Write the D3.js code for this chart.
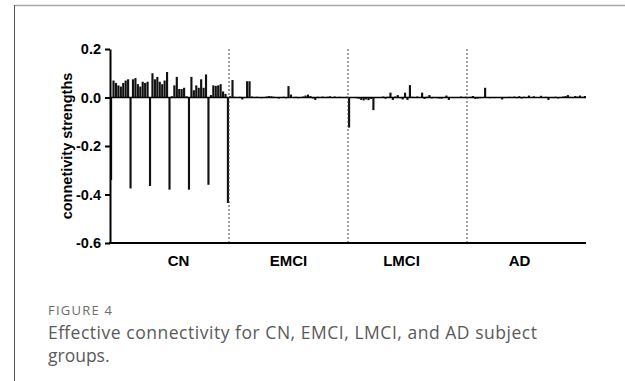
<!DOCTYPE html>
<html>
<head>
<meta charset="utf-8">
<script src="https://cdn.jsdelivr.net/npm/d3@7"></script>
<style>
  body { margin: 0; background: #fff; }
  svg { display: block; }
</style>
</head>
<body>
<div id="chart"></div>
<script>
// groups and y ticks
var groups = ["CN", "EMCI", "LMCI", "AD"];
var yTicks = [0.2, 0.0, -0.2, -0.4, -0.6];

// 49 connection strengths per group (7x7 matrix, row by row)
var cn = [-0.34, 0.07, 0.06, 0.05, 0.045, 0.06, 0.07, 0.075,
  -0.375, 0.075, 0.08, 0.055, 0.045, 0.065, 0.06, 0.065,
  -0.365, 0.10, 0.075, 0.085, 0.065, 0.055, 0.07, 0.105,
  -0.38, 0.005, 0.05, 0.085, 0.035, 0.035, 0.04, 0.005,
  -0.38, 0.085, 0.03, 0.05, 0.04, 0.075, 0.04, 0.095,
  -0.36, 0.01, 0.05, 0.048, 0.05, 0.055, 0.025, 0.015,
  -0.435];
var emci = [0.005, 0.072, 0.003, 0.002, 0.003, -0.008, 0.002, 0.067,
  0.067, 0.004, 0.002, 0.003, 0.002, -0.003, 0.002, 0.004,
  0.006, 0.005, 0.003, 0.002, -0.004, 0.002, 0.003, -0.003,
  0.047, 0.012, 0.002, 0.003, -0.003, 0.002, 0.004, 0.008,
  0.012, 0.006, -0.004, -0.01, 0.003, 0.002, 0.004, 0.002,
  0.003, 0.005, 0.002, 0.004, 0.002, 0.003, 0.002, 0.002,
  0.003];
var lmci = [-0.124, 0.002, 0.001, -0.003, -0.005, -0.01, -0.012, -0.008,
  -0.011, -0.006, -0.052, 0.002, 0.001, 0.002, 0.004, -0.005,
  0.003, 0.02, -0.01, 0.004, 0.01, -0.003, -0.008, 0.02,
  -0.01, 0.051, 0.003, 0.002, 0.004, 0.002, 0.02, -0.006,
  0.003, 0.01, -0.004, 0.002, -0.003, -0.004, -0.005, 0.002,
  0.008, -0.01, 0.002, 0.001, 0.002, 0.001, 0.004, 0.002,
  0.003];
var ad = [0.002, 0.003, 0.006, -0.006, -0.004, -0.003, 0.002, 0.04,
  0.002, -0.003, 0.002, -0.002, 0.001, 0.002, -0.008, 0.002,
  0.001, 0.003, 0.002, 0.004, -0.003, 0.005, -0.004, 0.003,
  0.002, 0.008, 0.002, 0.005, 0.001, 0.002, 0.007, 0.002,
  0.003, -0.01, 0.002, -0.002, 0.003, -0.004, 0.002, 0.004,
  0.006, 0.01, 0.003, -0.002, 0.006, 0.004, 0.008, 0.003,
  0.006];

var series = [cn, emci, lmci, ad];

var width = 625, height = 381;
var plot = {left: 110, right: 586, top: 49, bottom: 243};
var labelFont = "'Liberation Sans', Arial, sans-serif";

var svg = d3.select("#chart")
    .append("svg")
    .attr("width", width)
    .attr("height", height);

// card border (top and left edge)
svg.append("line")
    .attr("x1", 14).attr("x2", width).attr("y1", 5.5).attr("y2", 5.5)
    .attr("stroke", "#a8a8a8").attr("stroke-width", 1.5);
svg.append("line")
    .attr("x1", 14.5).attr("x2", 14.5).attr("y1", 5).attr("y2", height)
    .attr("stroke", "#555").attr("stroke-width", 1);

var y = d3.scaleLinear()
    .domain([-0.6, 0.2])
    .range([plot.bottom, plot.top]);

var xGroup = d3.scaleBand()
    .domain(groups)
    .range([plot.left, plot.right]);

var xBar = d3.scaleBand()
    .domain(d3.range(cn.length))
    .range([0, xGroup.bandwidth()])
    .paddingInner(0.12);

var bars = [];
series.forEach(function (vals, g) {
    vals.forEach(function (v, i) {
        bars.push({group: groups[g], i: i, value: v});
    });
});

svg.append("g")
    .selectAll("rect")
    .data(bars)
    .enter().append("rect")
    .attr("x", d => xGroup(d.group) + xBar(d.i))
    .attr("width", xBar.bandwidth())
    .attr("y", d => y(Math.max(0, d.value)))
    .attr("height", d => Math.max(0.6, Math.abs(y(d.value) - y(0))))
    .attr("fill", "#111");

// zero line
svg.append("line")
    .attr("x1", plot.left).attr("x2", plot.right)
    .attr("y1", y(0)).attr("y2", y(0))
    .attr("stroke", "#000").attr("stroke-width", 1.6);

// group separators
svg.append("g")
    .selectAll("line")
    .data(groups.slice(1))
    .enter().append("line")
    .attr("x1", d => xGroup(d)).attr("x2", d => xGroup(d))
    .attr("y1", plot.top).attr("y2", plot.bottom)
    .attr("stroke", "#444")
    .attr("stroke-width", 1)
    .attr("stroke-dasharray", "2,2");

// y axis
var yAxis = svg.append("g")
    .attr("transform", "translate(" + plot.left + ",0)")
    .call(d3.axisLeft(y)
        .tickValues(yTicks)
        .tickFormat(d => d3.format(".1f")(d).replace("\u2212", "-"))
        .tickSize(5)
        .tickSizeOuter(0));
yAxis.attr("font-size", 14.5).attr("font-family", labelFont).attr("font-weight", "bold");
yAxis.select(".domain").attr("stroke", "#000").attr("stroke-width", 2);
yAxis.selectAll(".tick line").attr("stroke", "#000").attr("stroke-width", 2);
yAxis.selectAll("text")
    .attr("fill", "#000")
    .attr("x", -9);

// x axis line
svg.append("line")
    .attr("x1", plot.left - 1).attr("x2", plot.right)
    .attr("y1", plot.bottom).attr("y2", plot.bottom)
    .attr("stroke", "#000").attr("stroke-width", 2);

// group labels
var labelShift = {CN: 9, EMCI: 0, LMCI: -6, AD: -7};
svg.append("g")
    .selectAll("text")
    .data(groups)
    .enter().append("text")
    .attr("x", d => xGroup(d) + xGroup.bandwidth() / 2 + labelShift[d])
    .attr("y", 266)
    .attr("text-anchor", "middle")
    .style("font-family", labelFont)
    .style("font-size", "15px")
    .style("font-weight", "bold")
    .text(d => d);

// y axis title
svg.append("text")
    .attr("transform", "translate(72," + ((plot.top + plot.bottom) / 2) + ") rotate(-90)")
    .attr("text-anchor", "middle")
    .style("font-family", labelFont)
    .style("font-size", "14.5px")
    .style("font-weight", "bold")
    .text("connetivity strengths");

// caption
svg.append("text")
    .attr("x", 48).attr("y", 315)
    .attr("fill", "#6b6b6b")
    .attr("textLength", 64)
    .style("font-family", "'Open Sans', sans-serif")
    .style("font-size", "13px")
    .text("FIGURE 4");
svg.append("text")
    .attr("x", 48).attr("y", 339)
    .attr("fill", "#5a5a5a")
    .attr("textLength", 489)
    .style("font-family", "'Open Sans', sans-serif")
    .style("font-size", "17.5px")
    .text("Effective connectivity for CN, EMCI, LMCI, and AD subject");
svg.append("text")
    .attr("x", 48).attr("y", 362)
    .attr("fill", "#5a5a5a")
    .style("font-family", "'Open Sans', sans-serif")
    .style("font-size", "17.5px")
    .text("groups.");
</script>
</body>
</html>
